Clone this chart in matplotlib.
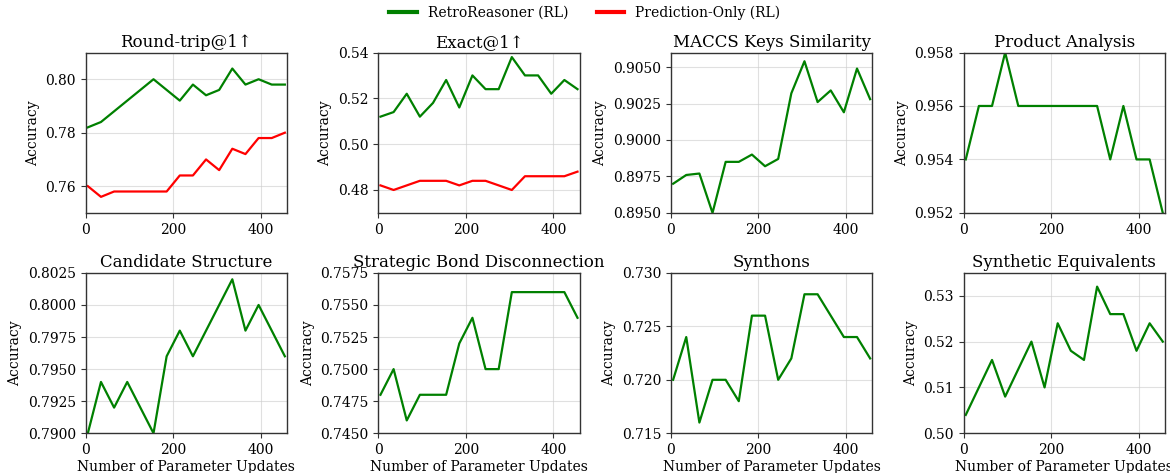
import numpy as np
import matplotlib
matplotlib.use("Agg")
import matplotlib.pyplot as plt
from matplotlib.lines import Line2D

# --------------------------------------------------------------------------- #
# Data (16 evaluation points).
# --------------------------------------------------------------------------- #
steps = [5, 35, 65, 95, 125, 155, 185, 215, 245, 275, 305, 335, 365, 395, 425, 455]

roundtrip_rr = [0.782, 0.784, 0.788, 0.792, 0.796, 0.800, 0.796, 0.792,
                0.798, 0.794, 0.796, 0.804, 0.798, 0.800, 0.798, 0.798]
roundtrip_po = [0.760, 0.756, 0.758, 0.758, 0.758, 0.758, 0.758, 0.764,
                0.764, 0.770, 0.766, 0.774, 0.772, 0.778, 0.778, 0.780]
exact_rr = [0.512, 0.514, 0.522, 0.512, 0.518, 0.528, 0.516, 0.530,
            0.524, 0.524, 0.538, 0.530, 0.530, 0.522, 0.528, 0.524]
exact_po = [0.482, 0.480, 0.482, 0.484, 0.484, 0.484, 0.482, 0.484,
            0.484, 0.482, 0.480, 0.486, 0.486, 0.486, 0.486, 0.488]
maccs = [0.8970, 0.8976, 0.8977, 0.8950, 0.8985, 0.8985, 0.8990, 0.8982,
         0.8987, 0.9032, 0.9054, 0.9026, 0.9034, 0.9019, 0.9049, 0.9028]
product = [0.954, 0.956, 0.956, 0.958, 0.956, 0.956, 0.956, 0.956,
           0.956, 0.956, 0.956, 0.954, 0.956, 0.954, 0.954, 0.952]
candidate = [0.7900, 0.7940, 0.7920, 0.7940, 0.7920, 0.7900, 0.7960, 0.7980,
             0.7960, 0.7980, 0.8000, 0.8020, 0.7980, 0.8000, 0.7980, 0.7960]
bond = [0.748, 0.750, 0.746, 0.748, 0.748, 0.748, 0.752, 0.754,
        0.750, 0.750, 0.756, 0.756, 0.756, 0.756, 0.756, 0.754]
synthons = [0.720, 0.724, 0.716, 0.720, 0.720, 0.718, 0.726, 0.726,
            0.720, 0.722, 0.728, 0.728, 0.726, 0.724, 0.724, 0.722]
equivalents = [0.504, 0.510, 0.516, 0.508, 0.514, 0.520, 0.510, 0.524,
               0.518, 0.516, 0.532, 0.526, 0.526, 0.518, 0.524, 0.520]

titles = ["Round-trip@1\u2191", "Exact@1\u2191", "MACCS Keys Similarity",
          "Product Analysis", "Candidate Structure",
          "Strategic Bond Disconnection", "Synthons", "Synthetic Equivalents"]
rr_series = [roundtrip_rr, exact_rr, maccs, product, candidate, bond,
             synthons, equivalents]
po_series = [roundtrip_po, exact_po, None, None, None, None, None, None]
ylims = [(0.75, 0.81), (0.47, 0.54), (0.895, 0.906), (0.952, 0.958),
         (0.79, 0.8025), (0.745, 0.7575), (0.715, 0.730), (0.50, 0.535)]
yticks = [[0.76, 0.78, 0.80], [0.48, 0.50, 0.52, 0.54],
          [0.8950, 0.8975, 0.9000, 0.9025, 0.9050],
          [0.952, 0.954, 0.956, 0.958],
          [0.7900, 0.7925, 0.7950, 0.7975, 0.8000, 0.8025],
          [0.7450, 0.7475, 0.7500, 0.7525, 0.7550, 0.7575],
          [0.715, 0.720, 0.725, 0.730], [0.50, 0.51, 0.52, 0.53]]
yfmt = ["%.2f", "%.2f", "%.4f", "%.3f", "%.4f", "%.4f", "%.3f", "%.2f"]

plt.rcParams["font.family"] = "DejaVu Serif"

GREEN, RED = "#008000", "#ff0000"
fig, axes = plt.subplots(2, 4, figsize=(11.7, 4.73), dpi=100)
fig.subplots_adjust(left=0.0732, right=0.9957, top=0.889, bottom=0.084,
                    wspace=0.453, hspace=0.374)

for k, ax in enumerate(axes.flat):
    ax.plot(steps, rr_series[k], color=GREEN, lw=1.6)
    if po_series[k] is not None:
        ax.plot(steps, po_series[k], color=RED, lw=1.6)
    ax.set_xlim(0, 460)
    ax.set_ylim(*ylims[k])
    ax.set_xticks([0, 200, 400])
    ax.set_yticks(yticks[k])
    ax.set_yticklabels([yfmt[k] % v for v in yticks[k]])
    ax.tick_params(labelsize=10, length=3.5, color="#333333")
    ax.set_title(titles[k], fontsize=12, pad=4)
    ax.set_ylabel("Accuracy", fontsize=10)
    if k >= 4:
        ax.set_xlabel("Number of Parameter Updates", fontsize=10, labelpad=2)
    ax.grid(color="#cccccc", alpha=0.6, lw=0.8)
    for s in ax.spines.values():
        s.set_color("#333333")
        s.set_linewidth(1.0)

handles = [Line2D([], [], color=GREEN, lw=3), Line2D([], [], color=RED, lw=3)]
fig.legend(handles, ["RetroReasoner (RL)", "Prediction-Only (RL)"],
           loc="upper center", bbox_to_anchor=(0.5, 1.015), ncol=2,
           frameon=False, fontsize=10)

fig.savefig("out.png", dpi=100)
